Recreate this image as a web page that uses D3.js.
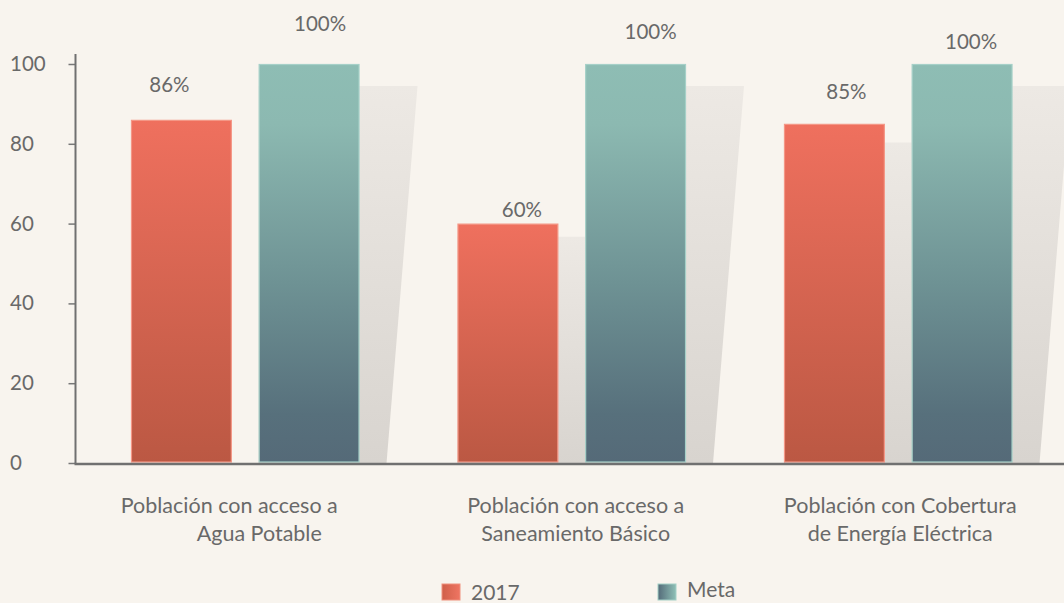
<!DOCTYPE html>
<html>
<head>
<meta charset="utf-8">
<script src="https://cdn.jsdelivr.net/npm/d3@7"></script>
<style>
  body { margin: 0; background: #f8f4ee; }
  svg { display: block; font-family: Lato, "Open Sans", sans-serif; }
</style>
</head>
<body>
<svg id="chart"></svg>
<script>
// data
var categories = ["agua", "saneamiento", "energia"];
var categoryLines = [
  ["Población con acceso a", "Agua Potable"],
  ["Población con acceso a", "Saneamiento Básico"],
  ["Población con Cobertura", "de Energía Eléctrica"]
];
var series = ["2017", "Meta"];
var values2017 = [86, 60, 85];
var valuesMeta = [100, 100, 100];
var yTicks = [0, 20, 40, 60, 80, 100];

// hand placed label nudges (px), the original was laid out by hand
var nudge2017 = [[-12, -28], [14, -7], [12, -25]];
var nudgeMeta = [[11, -33], [15, -25], [9, -15]];
var catNudge = [[-16, 14], [4, 4], [2, 2]];
var shadow2017 = [false, true, true];

var width = 1064, height = 603;
var textColor = "#696969";

var svg = d3.select("#chart").attr("width", width).attr("height", height);

var x = d3.scaleBand().domain(categories).range([82, 1061.5])
  .paddingInner(0.3).paddingOuter(0.15);
var xs = d3.scaleBand().domain(series).range([0, x.bandwidth()]).paddingInner(0.21);
var y = d3.scaleLinear().domain([0, 100]).range([463, 64]);

var defs = svg.append("defs");
function vGrad(id, stops, horizontal) {
  var g = defs.append("linearGradient").attr("id", id)
    .attr("x1", 0).attr("y1", 0)
    .attr("x2", horizontal ? 1 : 0).attr("y2", horizontal ? 0 : 1);
  stops.forEach(function (s) {
    g.append("stop").attr("offset", s[0]).attr("stop-color", s[1]);
  });
}
vGrad("gRed", [[0, "#ef705e"], [1, "#bb5843"]]);
vGrad("gTeal", [[0, "#8ebdb4"], [0.15, "#8cb9b1"], [0.55, "#6e9294"], [0.88, "#57707c"], [1, "#556a78"]]);
vGrad("gShadow", [[0, "#ede9e4"], [1, "#d8d4cf"]]);
vGrad("lRed", [[0, "#cf5f4a"], [1, "#ef7562"]], true);
vGrad("lTeal", [[0, "#546b79"], [1, "#8fc0b6"]], true);

// rows: one per bar
var rows = [];
categories.forEach(function (c, i) {
  rows.push({ cat: c, s: "2017", v: values2017[i], nd: nudge2017[i], shadow: shadow2017[i] });
  rows.push({ cat: c, s: "Meta", v: valuesMeta[i], nd: nudgeMeta[i], shadow: true });
});

var base = y(0);
var shadowScale = 0.945;

// shadows
svg.append("g").selectAll("path")
  .data(rows.filter(function (d) { return d.shadow; }))
  .join("path")
  .attr("fill", "url(#gShadow)")
  .attr("d", function (d) {
    var x0 = x(d.cat) + xs(d.s), x1 = x0 + xs.bandwidth();
    var top = base - (base - y(d.v)) * shadowScale;
    return "M" + x0 + "," + top + "L" + (x1 + 58) + "," + top +
      "L" + (x1 + 27) + "," + base + "L" + x0 + "," + base + "Z";
  });

// bars
svg.append("g").selectAll("rect")
  .data(rows)
  .join("rect")
  .attr("x", function (d) { return x(d.cat) + xs(d.s) + 0.5; })
  .attr("y", function (d) { return y(d.v) + 0.5; })
  .attr("width", xs.bandwidth() - 1)
  .attr("height", function (d) { return base - y(d.v) - 1.5; })
  .attr("fill", function (d) { return d.s === "2017" ? "url(#gRed)" : "url(#gTeal)"; })
  .attr("stroke", function (d) { return d.s === "2017" ? "#f49786" : "#a6d0c8"; })
  .attr("stroke-width", 1.2);

// value labels
svg.append("g").selectAll("text")
  .data(rows)
  .join("text")
  .attr("x", function (d) { return x(d.cat) + xs(d.s) + xs.bandwidth() / 2 + d.nd[0]; })
  .attr("y", function (d) { return y(d.v) + d.nd[1]; })
  .attr("text-anchor", "middle")
  .attr("font-size", 20.5)
  .attr("fill", textColor)
  .text(function (d) { return d.v + "%"; });

// y axis
var axisX = 75.5;
var yAxis = svg.append("g")
  .attr("transform", "translate(" + axisX + ",0)")
  .call(d3.axisLeft(y).tickValues(yTicks).tickSize(7).tickFormat(d3.format("d")));
yAxis.select(".domain").remove();
yAxis.selectAll(".tick line").attr("stroke", "#777").attr("stroke-width", 1.5);
yAxis.selectAll(".tick text")
  .attr("x", 10 - axisX)
  .attr("text-anchor", "start")
  .attr("font-size", 20.5)
  .attr("font-family", "Lato, 'Open Sans', sans-serif")
  .attr("fill", textColor);
svg.append("line")
  .attr("x1", axisX).attr("x2", axisX)
  .attr("y1", y(100) - 10).attr("y2", base + 1)
  .attr("stroke", "#707070").attr("stroke-width", 2);

// x axis line
svg.append("line")
  .attr("x1", axisX - 1).attr("x2", width)
  .attr("y1", base + 1).attr("y2", base + 1)
  .attr("stroke", "#707070").attr("stroke-width", 2.5);

// category labels
var cl = svg.append("g").selectAll("text")
  .data(categories)
  .join("text")
  .attr("text-anchor", "middle")
  .attr("font-size", 21.5)
  .attr("fill", textColor);
cl.each(function (c, i) {
  var t = d3.select(this);
  var cx = x(c) + x.bandwidth() / 2;
  categoryLines[i].forEach(function (line, j) {
    t.append("tspan")
      .attr("x", cx + catNudge[i][j])
      .attr("y", 513 + j * 28)
      .text(line);
  });
});

// legend
var legend = [
  { s: "2017", fill: "url(#lRed)", stroke: "#ef8f7d", x: 442, y: 584, ty: 600 },
  { s: "Meta", fill: "url(#lTeal)", stroke: "#a3cfc6", x: 658, y: 584, ty: 597 }
];
var lg = svg.append("g").selectAll("g").data(legend).join("g");
lg.append("rect")
  .attr("x", function (d) { return d.x; })
  .attr("y", function (d) { return d.y; })
  .attr("width", 18).attr("height", 16)
  .attr("fill", function (d) { return d.fill; })
  .attr("stroke", function (d) { return d.stroke; });
lg.append("text")
  .attr("x", function (d) { return d.x + 29; })
  .attr("y", function (d) { return d.ty; })
  .attr("font-size", 21)
  .attr("fill", textColor)
  .text(function (d) { return d.s; });
</script>
</body>
</html>
